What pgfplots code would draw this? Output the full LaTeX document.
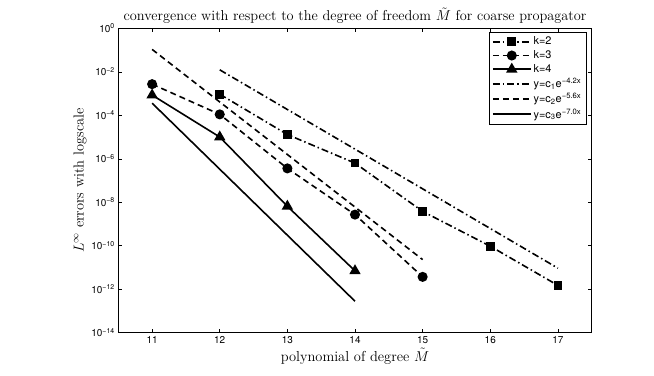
\documentclass[border=0pt]{standalone}
\usepackage{fontspec}
\usepackage{pgfplots}
\pgfplotsset{compat=1.18}
\newfontfamily\hv{TeX Gyre Heros}

\begin{document}
\begin{tikzpicture}
\begin{axis}[
  scale only axis,
  width=473.4bp, height=304.4bp,
  ymode=log,
  xmin=10.5, xmax=17.5,
  ymin=1e-14, ymax=1,
  xtick={11,12,13,14,15,16,17},
  ytick={1e-14,1e-12,1e-10,1e-8,1e-6,1e-4,1e-2,1},
  yticklabels={10\textsuperscript{−14},10\textsuperscript{−12},10\textsuperscript{−10},
    10\textsuperscript{−8},10\textsuperscript{−6},10\textsuperscript{−4},
    10\textsuperscript{−2},10\textsuperscript{0}},
  minor ytick={},
  tick align=inside,
  major tick length=4bp,
  axis line style={line width=0.6bp},
  every tick/.style={black, line width=0.5bp},
  ticklabel style={font=\hv\fontsize{10}{12}\selectfont},
  /pgf/number format/assume math mode=true,
  title={convergence with respect to the degree of freedom $\tilde M$ for coarse propagator},
  title style={font=\fontsize{14.4}{16}\selectfont, yshift=-5bp},
  xlabel={polynomial of degree $\tilde M$},
  ylabel={$L^\infty$ errors with logscale},
  label style={font=\fontsize{14.5}{16}\selectfont},
  xlabel style={yshift=2bp},
  ylabel style={yshift=-2bp},
  legend style={at={(0.988,0.987)}, anchor=north east,
    font=\hv\fontsize{11}{12.5}\selectfont, draw=black, line width=0.5bp,
    row sep=0.3bp, inner sep=2.5bp},
  legend cell align=left,
  legend image code/.code={%
    \draw[mark repeat=2,mark phase=2] plot coordinates {(0bp,0bp) (19bp,0bp) (38bp,0bp)};},
]
\addplot[black, line width=1.6bp, dash pattern=on 7bp off 3bp on 1.5bp off 3bp,
  mark=square*, mark size=3.5bp, mark options={solid}]
  coordinates {(12,9.3e-4)(13,1.3e-5)(14,6.3e-7)(15,3.8e-9)(16,9.5e-11)(17,1.5e-12)};
\addlegendentry{k=2}
\addplot[black, line width=1.6bp, dash pattern=on 6bp off 4bp,
  mark=*, mark size=4.2bp, mark options={solid}]
  coordinates {(11,2.7e-3)(12,1.1e-4)(13,3.6e-7)(14,2.7e-9)(15,3.7e-12)};
\addlegendentry{k=3}
\addplot[black, line width=1.6bp, mark=triangle*, mark size=5bp, mark options={solid}]
  coordinates {(11,8.5e-4)(12,1.0e-5)(13,6.5e-9)(14,7.0e-12)};
\addlegendentry{k=4}
\addplot[black, line width=1.6bp, dash pattern=on 7bp off 3bp on 1.5bp off 3bp]
  coordinates {(12,1.23e-2)(17,9.3e-12)};
\addlegendentry{y=c\textsubscript{1}e\textsuperscript{−4.2x}}
\addplot[black, line width=1.6bp, dash pattern=on 6bp off 4bp]
  coordinates {(11,1.07e-1)(15,2.3e-11)};
\addlegendentry{y=c\textsubscript{2}e\textsuperscript{−5.6x}}
\addplot[black, line width=1.6bp]
  coordinates {(11,3.6e-4)(14,2.8e-13)};
\addlegendentry{y=c\textsubscript{3}e\textsuperscript{−7.0x}}
\end{axis}
\path[use as bounding box] (-118.3bp,-43.3bp) rectangle (535.7bp,332.7bp);
\end{tikzpicture}
\end{document}
